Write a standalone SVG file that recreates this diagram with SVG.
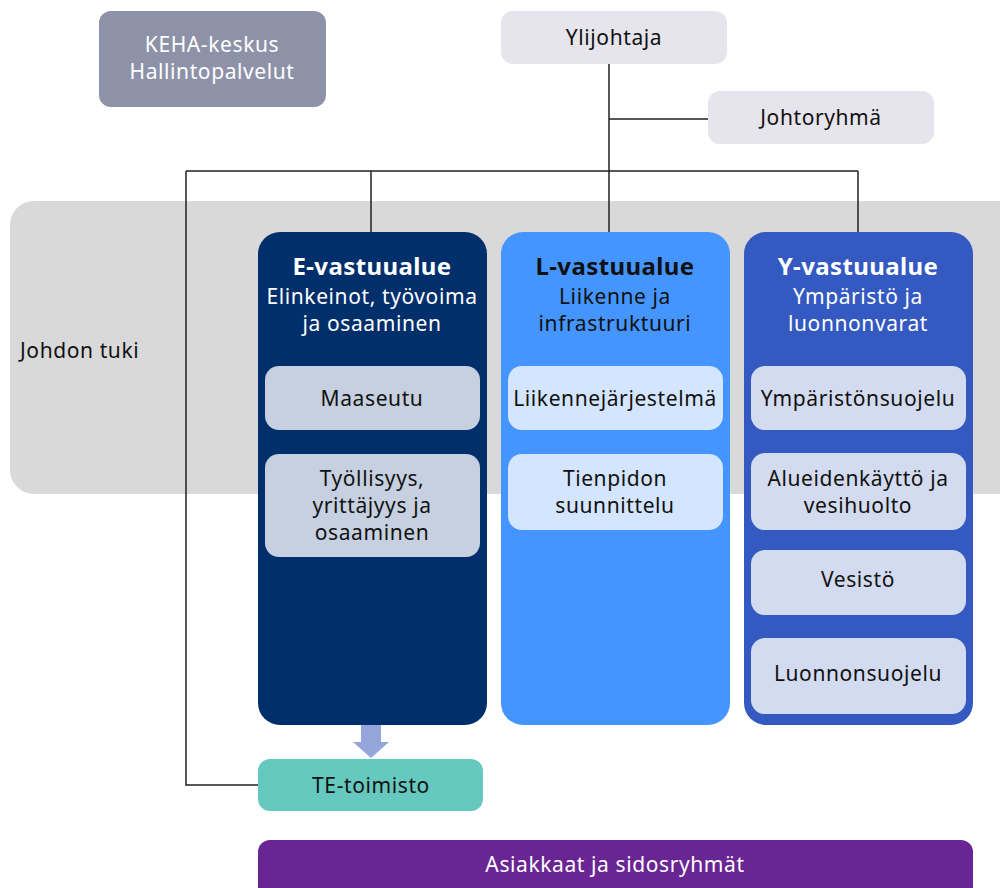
<svg xmlns="http://www.w3.org/2000/svg" width="1000" height="888" viewBox="0 0 1000 888">
<style>
text{font-family:"Noto Sans","Open Sans","DejaVu Sans",sans-serif;font-size:21px;letter-spacing:0.6px;text-anchor:middle}
.w{fill:#ffffff}
.k{fill:#111111}
.t{font-weight:bold;font-size:24px;letter-spacing:0.4px}
.ln{fill:none;stroke:#222;stroke-width:1.5}
</style>
<rect id="band" x="10" y="201" width="1012" height="293" rx="24" fill="#d9d9d9"/>
<text x="20" y="358" class="k" style="text-anchor:start">Johdon tuki</text>
<g id="connectors">
<path class="ln" d="M609 64V232M609 119H708M186 171H858M371 171V232M858 171V232M186 171V785H258"/>
<path d="M361 725H381V742H389L371 758L353 742H361Z" fill="#94a6dc"/>
</g>
<g id="keha"><rect x="99" y="11" width="227" height="96" rx="12" fill="#8e92a8"/>
<text x="212" y="52" class="w">KEHA-keskus</text><text x="212" y="79" class="w">Hallintopalvelut</text></g>
<g id="ylijohtaja"><rect x="501" y="11" width="226" height="53" rx="12" fill="#e6e4ec"/>
<text x="614" y="45" class="k">Ylijohtaja</text></g>
<g id="johtoryhma"><rect x="708" y="91" width="226" height="53" rx="12" fill="#e6e4ec"/>
<text x="821" y="125" class="k">Johtoryhmä</text></g>
<g id="e-vastuualue"><rect x="258" y="232" width="229" height="493" rx="22" fill="#002f6b"/>
<text x="372" y="275" class="w t">E-vastuualue</text>
<text x="372" y="304" class="w">Elinkeinot, työvoima</text><text x="372" y="331" class="w">ja osaaminen</text></g>
<g id="maaseutu"><rect x="265" y="366" width="215" height="64" rx="14" fill="#c6d0e0"/>
<text x="372" y="406" class="k">Maaseutu</text></g>
<g id="tyollisyys"><rect x="265" y="454" width="215" height="103" rx="14" fill="#c6d0e0"/>
<text x="372" y="486" class="k">Työllisyys,</text><text x="372" y="513" class="k">yrittäjyys ja</text><text x="372" y="540" class="k">osaaminen</text></g>
<g id="l-vastuualue"><rect x="501" y="232" width="229" height="493" rx="22" fill="#4495ff"/>
<text x="615" y="275" class="k t">L-vastuualue</text>
<text x="615" y="304" class="k">Liikenne ja</text><text x="615" y="331" class="k">infrastruktuuri</text></g>
<g id="liikennejarjestelma"><rect x="508" y="366" width="215" height="64" rx="14" fill="#d4e5ff"/>
<text x="615" y="406" class="k">Liikennejärjestelmä</text></g>
<g id="tienpidon"><rect x="508" y="454" width="215" height="76" rx="14" fill="#d4e5ff"/>
<text x="615" y="486" class="k">Tienpidon</text><text x="615" y="513" class="k">suunnittelu</text></g>
<g id="y-vastuualue"><rect x="744" y="232" width="229" height="493" rx="22" fill="#3459c0"/>
<text x="858" y="275" class="w t">Y-vastuualue</text>
<text x="858" y="304" class="w">Ympäristö ja</text><text x="858" y="331" class="w">luonnonvarat</text></g>
<g id="ymparistonsuojelu"><rect x="751" y="366" width="215" height="64" rx="14" fill="#d3dbf0"/>
<text x="858" y="406" class="k">Ympäristönsuojelu</text></g>
<g id="alueidenkaytto"><rect x="751" y="453" width="215" height="77" rx="14" fill="#d3dbf0"/>
<text x="858" y="486" class="k">Alueidenkäyttö ja</text><text x="858" y="513" class="k">vesihuolto</text></g>
<g id="vesisto"><rect x="751" y="550" width="215" height="65" rx="14" fill="#d3dbf0"/>
<text x="858" y="587" class="k">Vesistö</text></g>
<g id="luonnonsuojelu"><rect x="751" y="638" width="215" height="76" rx="14" fill="#d3dbf0"/>
<text x="858" y="681" class="k">Luonnonsuojelu</text></g>
<g id="te-toimisto"><rect x="258" y="759" width="225" height="52" rx="12" fill="#66c9c0"/>
<text x="371" y="793" class="k">TE-toimisto</text></g>
<g id="asiakkaat"><rect x="258" y="840" width="715" height="64" rx="12" fill="#6a2595"/>
<text x="615" y="872" class="w">Asiakkaat ja sidosryhmät</text></g>
</svg>
